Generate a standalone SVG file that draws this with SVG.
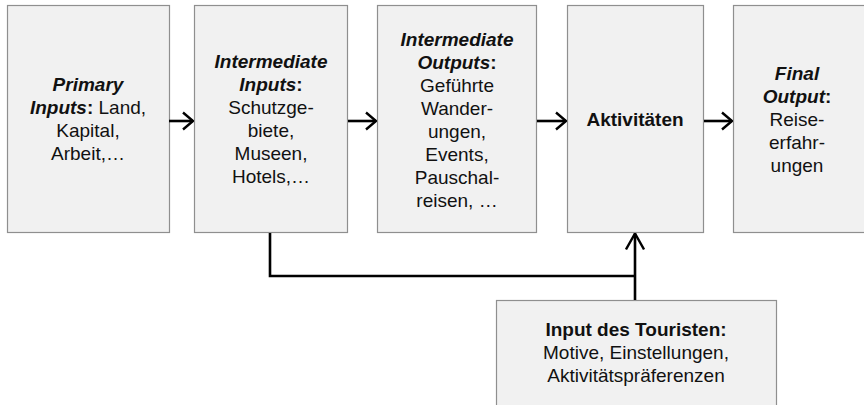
<svg xmlns="http://www.w3.org/2000/svg" width="864" height="405" viewBox="0 0 864 405">
  <style>
    .box { fill: #f1f1f1; stroke: #8f8f8f; stroke-width: 1.2; }
    .lbl { font-family: "Liberation Sans", Arial, sans-serif; font-size: 19px; fill: #111; text-anchor: middle; }
    .b { font-weight: bold; }
    .bi { font-weight: bold; font-style: italic; }
    .conn { fill: none; stroke: #000; stroke-width: 2.6; }
  </style>
  <defs>
    <marker id="chev" markerUnits="userSpaceOnUse" viewBox="0 0 12 20" refX="11" refY="10" markerWidth="12" markerHeight="20" orient="auto">
      <path d="M1,1.5 L11,10 L1,18.5" fill="none" stroke="#000" stroke-width="2.4"/>
    </marker>
    <marker id="chevUp" markerUnits="userSpaceOnUse" viewBox="0 0 18 20" refX="17" refY="10" markerWidth="18" markerHeight="20" orient="auto">
      <path d="M1,1 L17,10 L1,19" fill="none" stroke="#000" stroke-width="2.4"/>
    </marker>
  </defs>

  <g id="primary-inputs">
    <rect class="box" x="7.5" y="5.5" width="162" height="227"/>
    <text class="lbl" x="88" y="91"><tspan class="bi">Primary</tspan></text>
    <text class="lbl" x="88" y="114"><tspan class="bi">Inputs</tspan><tspan class="b">:</tspan> Land,</text>
    <text class="lbl" x="88" y="137">Kapital,</text>
    <text class="lbl" x="88" y="160">Arbeit,…</text>
  </g>

  <g id="intermediate-inputs">
    <rect class="box" x="194.5" y="5.5" width="153" height="227"/>
    <text class="lbl" x="271" y="68"><tspan class="bi">Intermediate</tspan></text>
    <text class="lbl" x="271" y="91"><tspan class="bi">Inputs</tspan><tspan class="b">:</tspan></text>
    <text class="lbl" x="271" y="114">Schutzge-</text>
    <text class="lbl" x="271" y="137">biete,</text>
    <text class="lbl" x="271" y="160">Museen,</text>
    <text class="lbl" x="271" y="183">Hotels,…</text>
  </g>

  <g id="intermediate-outputs">
    <rect class="box" x="377.5" y="5.5" width="159" height="227"/>
    <text class="lbl" x="457" y="46"><tspan class="bi">Intermediate</tspan></text>
    <text class="lbl" x="457" y="69"><tspan class="bi">Outputs</tspan><tspan class="b">:</tspan></text>
    <text class="lbl" x="457" y="92">Geführte</text>
    <text class="lbl" x="457" y="115">Wander-</text>
    <text class="lbl" x="457" y="138">ungen,</text>
    <text class="lbl" x="457" y="161">Events,</text>
    <text class="lbl" x="457" y="184">Pauschal-</text>
    <text class="lbl" x="457" y="207">reisen, …</text>
  </g>

  <g id="aktivitaeten">
    <rect class="box" x="567.5" y="5.5" width="136" height="227"/>
    <text class="lbl b" x="635" y="126">Aktivitäten</text>
  </g>

  <g id="final-output">
    <rect class="box" x="733.5" y="5.5" width="140" height="227"/>
    <text class="lbl" x="797" y="80"><tspan class="bi">Final</tspan></text>
    <text class="lbl" x="797" y="103"><tspan class="bi">Output</tspan><tspan class="b">:</tspan></text>
    <text class="lbl" x="797" y="126">Reise-</text>
    <text class="lbl" x="797" y="149">erfahr-</text>
    <text class="lbl" x="797" y="172">ungen</text>
  </g>

  <g id="input-touristen">
    <rect class="box" x="496.5" y="300.5" width="280" height="115"/>
    <text class="lbl b" x="636" y="336">Input des Touristen:</text>
    <text class="lbl" x="636" y="359">Motive, Einstellungen,</text>
    <text class="lbl" x="636" y="382">Aktivitätspräferenzen</text>
  </g>

  <g id="connectors">
    <line class="conn" x1="169" y1="121" x2="193" y2="121" marker-end="url(#chev)"/>
    <line class="conn" x1="348" y1="121" x2="376" y2="121" marker-end="url(#chev)"/>
    <line class="conn" x1="537" y1="121" x2="566" y2="121" marker-end="url(#chev)"/>
    <line class="conn" x1="704" y1="121" x2="732" y2="121" marker-end="url(#chev)"/>
    <polyline class="conn" points="270,233 270,276 635,276"/>
    <line class="conn" x1="635" y1="300" x2="635" y2="233.5" marker-end="url(#chevUp)"/>
  </g>
</svg>
